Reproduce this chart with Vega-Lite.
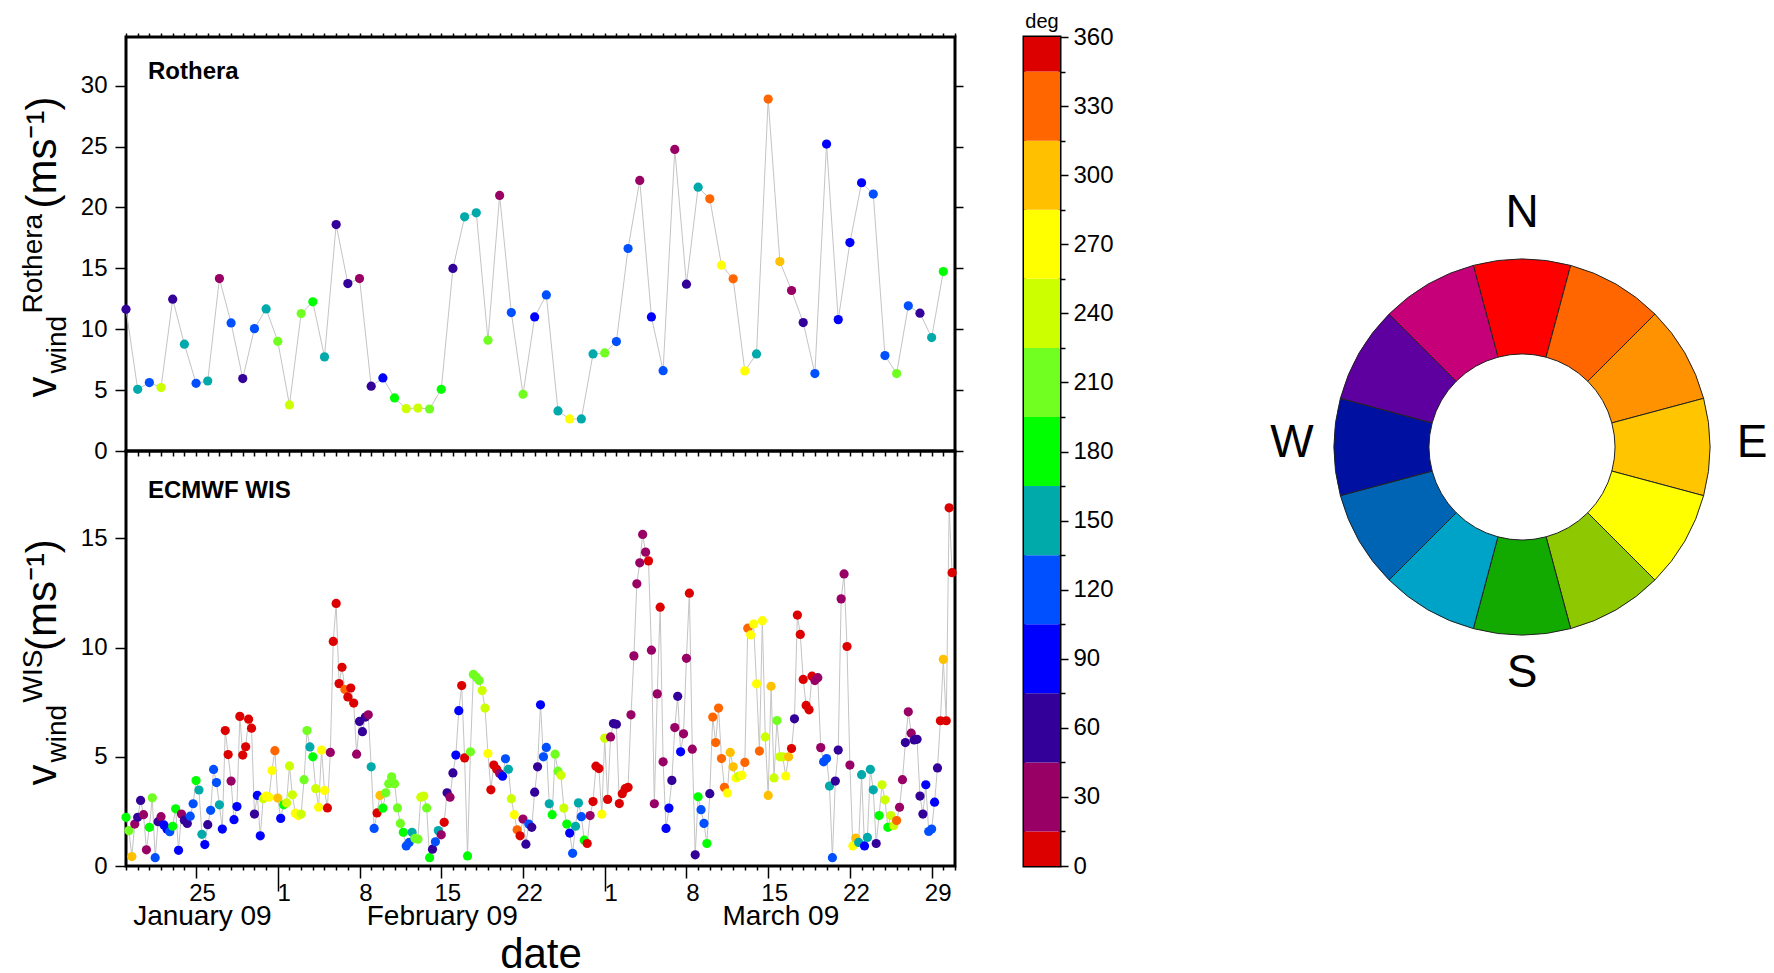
{
  "$schema": "https://vega.github.io/schema/vega-lite/v6.json",
  "background": "white",
  "padding": {"left": 17, "top": 10, "right": 0, "bottom": 0},
  "datasets": {
    "roth": [
      {"t":"2009-01-19","v":11.64,"d":60},{"t":"2009-01-20","v":5.07,"d":150},{"t":"2009-01-21","v":5.62,"d":120},{"t":"2009-01-22","v":5.21,"d":240},
      {"t":"2009-01-23","v":12.47,"d":60},{"t":"2009-01-24","v":8.77,"d":150},{"t":"2009-01-25","v":5.56,"d":120},{"t":"2009-01-26","v":5.75,"d":150},
      {"t":"2009-01-27","v":14.16,"d":30},{"t":"2009-01-28","v":10.52,"d":120},{"t":"2009-01-29","v":5.95,"d":60},{"t":"2009-01-30","v":10.05,"d":120},
      {"t":"2009-01-31","v":11.67,"d":150},{"t":"2009-02-01","v":9.01,"d":210},{"t":"2009-02-02","v":3.78,"d":240},{"t":"2009-02-03","v":11.29,"d":210},
      {"t":"2009-02-04","v":12.25,"d":180},{"t":"2009-02-05","v":7.73,"d":150},{"t":"2009-02-06","v":18.6,"d":60},{"t":"2009-02-07","v":13.75,"d":60},
      {"t":"2009-02-08","v":14.16,"d":30},{"t":"2009-02-09","v":5.32,"d":60},{"t":"2009-02-10","v":6.0,"d":90},{"t":"2009-02-11","v":4.36,"d":180},
      {"t":"2009-02-12","v":3.48,"d":240},{"t":"2009-02-13","v":3.53,"d":240},{"t":"2009-02-14","v":3.45,"d":210},{"t":"2009-02-15","v":5.07,"d":180},
      {"t":"2009-02-16","v":14.99,"d":60},{"t":"2009-02-17","v":19.23,"d":150},{"t":"2009-02-18","v":19.56,"d":150},{"t":"2009-02-19","v":9.1,"d":210},
      {"t":"2009-02-20","v":20.99,"d":30},{"t":"2009-02-21","v":11.37,"d":120},{"t":"2009-02-22","v":4.66,"d":210},{"t":"2009-02-23","v":11.01,"d":90},
      {"t":"2009-02-24","v":12.82,"d":120},{"t":"2009-02-25","v":3.29,"d":150},{"t":"2009-02-26","v":2.63,"d":270},{"t":"2009-02-27","v":2.63,"d":150},
      {"t":"2009-02-28","v":7.97,"d":150},{"t":"2009-03-01","v":8.05,"d":210},{"t":"2009-03-02","v":8.99,"d":120},{"t":"2009-03-03","v":16.63,"d":120},
      {"t":"2009-03-04","v":22.22,"d":30},{"t":"2009-03-05","v":11.01,"d":90},{"t":"2009-03-06","v":6.6,"d":120},{"t":"2009-03-07","v":24.77,"d":30},
      {"t":"2009-03-08","v":13.7,"d":60},{"t":"2009-03-09","v":21.67,"d":150},{"t":"2009-03-10","v":20.71,"d":330},{"t":"2009-03-11","v":15.26,"d":270},
      {"t":"2009-03-12","v":14.14,"d":330},{"t":"2009-03-13","v":6.58,"d":270},{"t":"2009-03-14","v":7.97,"d":150},{"t":"2009-03-15","v":28.9,"d":330},
      {"t":"2009-03-16","v":15.56,"d":300},{"t":"2009-03-17","v":13.18,"d":30},{"t":"2009-03-18","v":10.55,"d":60},{"t":"2009-03-19","v":6.36,"d":120},
      {"t":"2009-03-20","v":25.21,"d":90},{"t":"2009-03-21","v":10.79,"d":90},{"t":"2009-03-22","v":17.12,"d":90},{"t":"2009-03-23","v":22.03,"d":90},
      {"t":"2009-03-24","v":21.1,"d":120},{"t":"2009-03-25","v":7.84,"d":120},{"t":"2009-03-26","v":6.36,"d":210},{"t":"2009-03-27","v":11.92,"d":120},
      {"t":"2009-03-28","v":11.32,"d":60},{"t":"2009-03-29","v":9.32,"d":150},{"t":"2009-03-30","v":14.74,"d":180}
    ],
    "wis": [
      {"t":"2009-01-19T00:00Z","v":2.23,"d":180},{"t":"2009-01-19T06:00Z","v":1.62,"d":210},{"t":"2009-01-19T12:00Z","v":0.43,"d":300},{"t":"2009-01-19T18:00Z","v":1.92,"d":30},
      {"t":"2009-01-20T00:00Z","v":2.23,"d":60},{"t":"2009-01-20T06:00Z","v":3.0,"d":60},{"t":"2009-01-20T12:00Z","v":2.35,"d":30},{"t":"2009-01-20T18:00Z","v":0.74,"d":30},
      {"t":"2009-01-21T00:00Z","v":1.77,"d":180},{"t":"2009-01-21T06:00Z","v":3.12,"d":210},{"t":"2009-01-21T12:00Z","v":0.38,"d":120},{"t":"2009-01-21T18:00Z","v":2.03,"d":60},
      {"t":"2009-01-22T00:00Z","v":2.26,"d":30},{"t":"2009-01-22T06:00Z","v":1.88,"d":90},{"t":"2009-01-22T12:00Z","v":1.7,"d":90},{"t":"2009-01-22T18:00Z","v":1.57,"d":120},
      {"t":"2009-01-23T00:00Z","v":1.82,"d":180},{"t":"2009-01-23T06:00Z","v":2.62,"d":180},{"t":"2009-01-23T12:00Z","v":0.72,"d":90},{"t":"2009-01-23T18:00Z","v":2.38,"d":30},
      {"t":"2009-01-24T00:00Z","v":2.1,"d":60},{"t":"2009-01-24T06:00Z","v":1.95,"d":60},{"t":"2009-01-24T12:00Z","v":2.28,"d":120},{"t":"2009-01-24T18:00Z","v":2.85,"d":120},
      {"t":"2009-01-25T00:00Z","v":3.91,"d":180},{"t":"2009-01-25T06:00Z","v":3.48,"d":150},{"t":"2009-01-25T12:00Z","v":1.45,"d":150},{"t":"2009-01-25T18:00Z","v":0.98,"d":90},
      {"t":"2009-01-26T00:00Z","v":1.89,"d":60},{"t":"2009-01-26T06:00Z","v":2.55,"d":120},{"t":"2009-01-26T12:00Z","v":4.42,"d":120},{"t":"2009-01-26T18:00Z","v":3.82,"d":120},
      {"t":"2009-01-27T00:00Z","v":2.8,"d":150},{"t":"2009-01-27T06:00Z","v":1.69,"d":90},{"t":"2009-01-27T12:00Z","v":6.2,"d":0},{"t":"2009-01-27T18:00Z","v":5.1,"d":0},
      {"t":"2009-01-28T00:00Z","v":3.89,"d":30},{"t":"2009-01-28T06:00Z","v":2.12,"d":90},{"t":"2009-01-28T12:00Z","v":2.72,"d":90},{"t":"2009-01-28T18:00Z","v":6.85,"d":0},
      {"t":"2009-01-29T00:00Z","v":5.08,"d":0},{"t":"2009-01-29T06:00Z","v":5.46,"d":0},{"t":"2009-01-29T12:00Z","v":6.72,"d":0},{"t":"2009-01-29T18:00Z","v":6.31,"d":0},
      {"t":"2009-01-30T00:00Z","v":2.38,"d":60},{"t":"2009-01-30T06:00Z","v":3.23,"d":90},{"t":"2009-01-30T12:00Z","v":1.38,"d":90},{"t":"2009-01-30T18:00Z","v":3.08,"d":240},
      {"t":"2009-01-31T00:00Z","v":3.2,"d":270},{"t":"2009-01-31T06:00Z","v":3.15,"d":270},{"t":"2009-01-31T12:00Z","v":4.37,"d":270},{"t":"2009-01-31T18:00Z","v":5.28,"d":330},
      {"t":"2009-02-01T00:00Z","v":3.11,"d":300},{"t":"2009-02-01T06:00Z","v":2.18,"d":90},{"t":"2009-02-01T12:00Z","v":2.8,"d":180},{"t":"2009-02-01T18:00Z","v":2.89,"d":240},
      {"t":"2009-02-02T00:00Z","v":4.58,"d":240},{"t":"2009-02-02T06:00Z","v":3.26,"d":240},{"t":"2009-02-02T12:00Z","v":2.42,"d":270},{"t":"2009-02-02T18:00Z","v":2.31,"d":270},
      {"t":"2009-02-03T00:00Z","v":2.38,"d":240},{"t":"2009-02-03T06:00Z","v":3.95,"d":210},{"t":"2009-02-03T12:00Z","v":6.2,"d":210},{"t":"2009-02-03T18:00Z","v":5.45,"d":150},
      {"t":"2009-02-04T00:00Z","v":5.0,"d":180},{"t":"2009-02-04T06:00Z","v":3.54,"d":240},{"t":"2009-02-04T12:00Z","v":2.69,"d":270},{"t":"2009-02-04T18:00Z","v":5.31,"d":270},
      {"t":"2009-02-05T00:00Z","v":3.46,"d":270},{"t":"2009-02-05T06:00Z","v":2.66,"d":0},{"t":"2009-02-05T12:00Z","v":5.2,"d":30},{"t":"2009-02-05T18:00Z","v":10.28,"d":0},
      {"t":"2009-02-06T00:00Z","v":12.02,"d":0},{"t":"2009-02-06T06:00Z","v":8.35,"d":0},{"t":"2009-02-06T12:00Z","v":9.1,"d":0},{"t":"2009-02-06T18:00Z","v":8.08,"d":330},
      {"t":"2009-02-07T00:00Z","v":7.74,"d":0},{"t":"2009-02-07T06:00Z","v":8.15,"d":0},{"t":"2009-02-07T12:00Z","v":7.46,"d":0},{"t":"2009-02-07T18:00Z","v":5.12,"d":30},
      {"t":"2009-02-08T00:00Z","v":6.62,"d":60},{"t":"2009-02-08T06:00Z","v":6.15,"d":60},{"t":"2009-02-08T12:00Z","v":6.82,"d":60},{"t":"2009-02-08T18:00Z","v":6.92,"d":30},
      {"t":"2009-02-09T00:00Z","v":4.54,"d":150},{"t":"2009-02-09T06:00Z","v":1.72,"d":120},{"t":"2009-02-09T12:00Z","v":2.43,"d":0},{"t":"2009-02-09T18:00Z","v":3.23,"d":300},
      {"t":"2009-02-10T00:00Z","v":2.65,"d":180},{"t":"2009-02-10T06:00Z","v":3.35,"d":210},{"t":"2009-02-10T12:00Z","v":3.77,"d":210},{"t":"2009-02-10T18:00Z","v":4.08,"d":210},
      {"t":"2009-02-11T00:00Z","v":3.77,"d":210},{"t":"2009-02-11T06:00Z","v":2.66,"d":210},{"t":"2009-02-11T12:00Z","v":1.95,"d":210},{"t":"2009-02-11T18:00Z","v":1.54,"d":180},
      {"t":"2009-02-12T00:00Z","v":0.92,"d":120},{"t":"2009-02-12T06:00Z","v":1.08,"d":120},{"t":"2009-02-12T12:00Z","v":1.54,"d":150},{"t":"2009-02-12T18:00Z","v":1.26,"d":210},
      {"t":"2009-02-13T00:00Z","v":1.23,"d":210},{"t":"2009-02-13T06:00Z","v":3.15,"d":240},{"t":"2009-02-13T12:00Z","v":3.2,"d":240},{"t":"2009-02-13T18:00Z","v":2.66,"d":210},
      {"t":"2009-02-14T00:00Z","v":0.38,"d":180},{"t":"2009-02-14T06:00Z","v":0.77,"d":60},{"t":"2009-02-14T12:00Z","v":1.11,"d":120},{"t":"2009-02-14T18:00Z","v":1.62,"d":150},
      {"t":"2009-02-15T00:00Z","v":1.43,"d":30},{"t":"2009-02-15T06:00Z","v":2.0,"d":0},{"t":"2009-02-15T12:00Z","v":3.35,"d":60},{"t":"2009-02-15T18:00Z","v":3.15,"d":30},
      {"t":"2009-02-16T00:00Z","v":4.26,"d":60},{"t":"2009-02-16T06:00Z","v":5.08,"d":90},{"t":"2009-02-16T12:00Z","v":7.11,"d":90},{"t":"2009-02-16T18:00Z","v":8.26,"d":0},
      {"t":"2009-02-17T00:00Z","v":4.95,"d":0},{"t":"2009-02-17T06:00Z","v":0.46,"d":180},{"t":"2009-02-17T12:00Z","v":5.23,"d":210},{"t":"2009-02-17T18:00Z","v":8.77,"d":210},
      {"t":"2009-02-18T00:00Z","v":8.65,"d":210},{"t":"2009-02-18T06:00Z","v":8.49,"d":210},{"t":"2009-02-18T12:00Z","v":8.03,"d":240},{"t":"2009-02-18T18:00Z","v":7.23,"d":240},
      {"t":"2009-02-19T00:00Z","v":5.15,"d":270},{"t":"2009-02-19T06:00Z","v":3.49,"d":0},{"t":"2009-02-19T12:00Z","v":4.62,"d":0},{"t":"2009-02-19T18:00Z","v":4.43,"d":0},
      {"t":"2009-02-20T00:00Z","v":4.23,"d":30},{"t":"2009-02-20T06:00Z","v":4.11,"d":90},{"t":"2009-02-20T12:00Z","v":4.91,"d":120},{"t":"2009-02-20T18:00Z","v":4.43,"d":150},
      {"t":"2009-02-21T00:00Z","v":3.08,"d":240},{"t":"2009-02-21T06:00Z","v":2.35,"d":270},{"t":"2009-02-21T12:00Z","v":1.66,"d":330},{"t":"2009-02-21T18:00Z","v":1.38,"d":0},
      {"t":"2009-02-22T00:00Z","v":2.15,"d":30},{"t":"2009-02-22T06:00Z","v":1.0,"d":60},{"t":"2009-02-22T12:00Z","v":1.92,"d":120},{"t":"2009-02-22T18:00Z","v":1.77,"d":60},
      {"t":"2009-02-23T00:00Z","v":3.38,"d":60},{"t":"2009-02-23T06:00Z","v":4.54,"d":60},{"t":"2009-02-23T12:00Z","v":7.38,"d":90},{"t":"2009-02-23T18:00Z","v":5.0,"d":120},
      {"t":"2009-02-24T00:00Z","v":5.43,"d":120},{"t":"2009-02-24T06:00Z","v":2.85,"d":150},{"t":"2009-02-24T12:00Z","v":2.35,"d":180},{"t":"2009-02-24T18:00Z","v":5.12,"d":210},
      {"t":"2009-02-25T00:00Z","v":4.34,"d":210},{"t":"2009-02-25T06:00Z","v":4.15,"d":240},{"t":"2009-02-25T12:00Z","v":2.65,"d":240},{"t":"2009-02-25T18:00Z","v":1.92,"d":180},
      {"t":"2009-02-26T00:00Z","v":1.51,"d":90},{"t":"2009-02-26T06:00Z","v":0.58,"d":120},{"t":"2009-02-26T12:00Z","v":1.82,"d":150},{"t":"2009-02-26T18:00Z","v":2.89,"d":150},
      {"t":"2009-02-27T00:00Z","v":2.26,"d":120},{"t":"2009-02-27T06:00Z","v":1.18,"d":180},{"t":"2009-02-27T12:00Z","v":1.03,"d":0},{"t":"2009-02-27T18:00Z","v":2.31,"d":30},
      {"t":"2009-02-28T00:00Z","v":2.95,"d":0},{"t":"2009-02-28T06:00Z","v":4.57,"d":0},{"t":"2009-02-28T12:00Z","v":4.46,"d":0},{"t":"2009-02-28T18:00Z","v":2.37,"d":270},
      {"t":"2009-03-01T00:00Z","v":5.85,"d":240},{"t":"2009-03-01T06:00Z","v":3.05,"d":0},{"t":"2009-03-01T12:00Z","v":5.91,"d":30},{"t":"2009-03-01T18:00Z","v":6.52,"d":60},
      {"t":"2009-03-02T00:00Z","v":6.49,"d":60},{"t":"2009-03-02T06:00Z","v":2.86,"d":0},{"t":"2009-03-02T12:00Z","v":3.31,"d":0},{"t":"2009-03-02T18:00Z","v":3.54,"d":0},
      {"t":"2009-03-03T00:00Z","v":3.6,"d":0},{"t":"2009-03-03T06:00Z","v":6.92,"d":30},{"t":"2009-03-03T12:00Z","v":9.62,"d":30},{"t":"2009-03-03T18:00Z","v":12.92,"d":30},
      {"t":"2009-03-04T00:00Z","v":13.88,"d":30},{"t":"2009-03-04T06:00Z","v":15.18,"d":30},{"t":"2009-03-04T12:00Z","v":14.37,"d":30},{"t":"2009-03-04T18:00Z","v":13.97,"d":0},
      {"t":"2009-03-05T00:00Z","v":9.88,"d":30},{"t":"2009-03-05T06:00Z","v":2.85,"d":30},{"t":"2009-03-05T12:00Z","v":7.88,"d":30},{"t":"2009-03-05T18:00Z","v":11.85,"d":0},
      {"t":"2009-03-06T00:00Z","v":4.77,"d":30},{"t":"2009-03-06T06:00Z","v":1.72,"d":90},{"t":"2009-03-06T12:00Z","v":2.65,"d":90},{"t":"2009-03-06T18:00Z","v":3.92,"d":60},
      {"t":"2009-03-07T00:00Z","v":6.34,"d":30},{"t":"2009-03-07T06:00Z","v":7.77,"d":60},{"t":"2009-03-07T12:00Z","v":5.23,"d":90},{"t":"2009-03-07T18:00Z","v":6.05,"d":30},
      {"t":"2009-03-08T00:00Z","v":9.51,"d":30},{"t":"2009-03-08T06:00Z","v":12.49,"d":0},{"t":"2009-03-08T12:00Z","v":5.35,"d":30},{"t":"2009-03-08T18:00Z","v":0.51,"d":60},
      {"t":"2009-03-09T00:00Z","v":3.17,"d":180},{"t":"2009-03-09T06:00Z","v":2.58,"d":120},{"t":"2009-03-09T12:00Z","v":1.95,"d":120},{"t":"2009-03-09T18:00Z","v":1.03,"d":180},
      {"t":"2009-03-10T00:00Z","v":3.31,"d":60},{"t":"2009-03-10T06:00Z","v":6.82,"d":330},{"t":"2009-03-10T12:00Z","v":5.65,"d":330},{"t":"2009-03-10T18:00Z","v":7.23,"d":330},
      {"t":"2009-03-11T00:00Z","v":4.92,"d":330},{"t":"2009-03-11T06:00Z","v":3.6,"d":330},{"t":"2009-03-11T12:00Z","v":3.34,"d":270},{"t":"2009-03-11T18:00Z","v":5.2,"d":300},
      {"t":"2009-03-12T00:00Z","v":4.54,"d":300},{"t":"2009-03-12T06:00Z","v":4.03,"d":270},{"t":"2009-03-12T12:00Z","v":4.12,"d":240},{"t":"2009-03-12T18:00Z","v":4.15,"d":270},
      {"t":"2009-03-13T00:00Z","v":4.74,"d":330},{"t":"2009-03-13T06:00Z","v":10.89,"d":330},{"t":"2009-03-13T12:00Z","v":10.58,"d":270},{"t":"2009-03-13T18:00Z","v":11.08,"d":270},
      {"t":"2009-03-14T00:00Z","v":8.34,"d":270},{"t":"2009-03-14T06:00Z","v":5.26,"d":330},{"t":"2009-03-14T12:00Z","v":11.23,"d":270},{"t":"2009-03-14T18:00Z","v":5.91,"d":240},
      {"t":"2009-03-15T00:00Z","v":3.23,"d":300},{"t":"2009-03-15T06:00Z","v":8.23,"d":300},{"t":"2009-03-15T12:00Z","v":4.03,"d":240},{"t":"2009-03-15T18:00Z","v":6.66,"d":210},
      {"t":"2009-03-16T00:00Z","v":5.0,"d":240},{"t":"2009-03-16T06:00Z","v":5.0,"d":240},{"t":"2009-03-16T12:00Z","v":4.12,"d":270},{"t":"2009-03-16T18:00Z","v":5.0,"d":300},
      {"t":"2009-03-17T00:00Z","v":5.38,"d":0},{"t":"2009-03-17T06:00Z","v":6.74,"d":60},{"t":"2009-03-17T12:00Z","v":11.49,"d":0},{"t":"2009-03-17T18:00Z","v":10.6,"d":0},
      {"t":"2009-03-18T00:00Z","v":8.54,"d":0},{"t":"2009-03-18T06:00Z","v":7.35,"d":0},{"t":"2009-03-18T12:00Z","v":7.15,"d":0},{"t":"2009-03-18T18:00Z","v":8.69,"d":0},
      {"t":"2009-03-19T00:00Z","v":8.49,"d":30},{"t":"2009-03-19T06:00Z","v":8.62,"d":30},{"t":"2009-03-19T12:00Z","v":5.42,"d":30},{"t":"2009-03-19T18:00Z","v":4.77,"d":120},
      {"t":"2009-03-20T00:00Z","v":4.92,"d":120},{"t":"2009-03-20T06:00Z","v":3.66,"d":150},{"t":"2009-03-20T12:00Z","v":0.38,"d":120},{"t":"2009-03-20T18:00Z","v":3.89,"d":60},
      {"t":"2009-03-21T00:00Z","v":5.31,"d":60},{"t":"2009-03-21T06:00Z","v":12.23,"d":30},{"t":"2009-03-21T12:00Z","v":13.37,"d":30},{"t":"2009-03-21T18:00Z","v":10.05,"d":0},
      {"t":"2009-03-22T00:00Z","v":4.62,"d":30},{"t":"2009-03-22T06:00Z","v":0.92,"d":270},{"t":"2009-03-22T12:00Z","v":1.28,"d":300},{"t":"2009-03-22T18:00Z","v":1.08,"d":150},
      {"t":"2009-03-23T00:00Z","v":4.18,"d":150},{"t":"2009-03-23T06:00Z","v":0.92,"d":90},{"t":"2009-03-23T12:00Z","v":1.31,"d":150},{"t":"2009-03-23T18:00Z","v":4.42,"d":150},
      {"t":"2009-03-24T00:00Z","v":3.49,"d":150},{"t":"2009-03-24T06:00Z","v":1.03,"d":60},{"t":"2009-03-24T12:00Z","v":2.31,"d":180},{"t":"2009-03-24T18:00Z","v":3.72,"d":240},
      {"t":"2009-03-25T00:00Z","v":3.03,"d":240},{"t":"2009-03-25T06:00Z","v":1.77,"d":180},{"t":"2009-03-25T12:00Z","v":2.31,"d":240},{"t":"2009-03-25T18:00Z","v":1.85,"d":240},
      {"t":"2009-03-26T00:00Z","v":2.08,"d":330},{"t":"2009-03-26T06:00Z","v":2.69,"d":30},{"t":"2009-03-26T12:00Z","v":3.95,"d":30},{"t":"2009-03-26T18:00Z","v":5.65,"d":60},
      {"t":"2009-03-27T00:00Z","v":7.06,"d":30},{"t":"2009-03-27T06:00Z","v":6.08,"d":30},{"t":"2009-03-27T12:00Z","v":5.77,"d":60},{"t":"2009-03-27T18:00Z","v":5.8,"d":60},
      {"t":"2009-03-28T00:00Z","v":3.2,"d":60},{"t":"2009-03-28T06:00Z","v":2.38,"d":60},{"t":"2009-03-28T12:00Z","v":3.72,"d":90},{"t":"2009-03-28T18:00Z","v":1.58,"d":120},
      {"t":"2009-03-29T00:00Z","v":1.69,"d":120},{"t":"2009-03-29T06:00Z","v":2.92,"d":90},{"t":"2009-03-29T12:00Z","v":4.49,"d":60},{"t":"2009-03-29T18:00Z","v":6.65,"d":0},
      {"t":"2009-03-30T00:00Z","v":9.46,"d":300},{"t":"2009-03-30T06:00Z","v":6.65,"d":0},{"t":"2009-03-30T12:00Z","v":16.4,"d":0},{"t":"2009-03-30T18:00Z","v":13.43,"d":0}
    ],
    "bins": [
      {"lo":0,"hi":15,"mid":0},{"lo":15,"hi":45,"mid":30},{"lo":45,"hi":75,"mid":60},{"lo":75,"hi":105,"mid":90},
      {"lo":105,"hi":135,"mid":120},{"lo":135,"hi":165,"mid":150},{"lo":165,"hi":195,"mid":180},{"lo":195,"hi":225,"mid":210},
      {"lo":225,"hi":255,"mid":240},{"lo":255,"hi":285,"mid":270},{"lo":285,"hi":315,"mid":300},{"lo":315,"hi":345,"mid":330},{"lo":345,"hi":360,"mid":360}
    ],
    "wheel": [
      {"dir":0,"a0":-15,"a1":15},{"dir":30,"a0":15,"a1":45},{"dir":60,"a0":45,"a1":75},{"dir":90,"a0":75,"a1":105},
      {"dir":120,"a0":105,"a1":135},{"dir":150,"a0":135,"a1":165},{"dir":180,"a0":165,"a1":195},{"dir":210,"a0":195,"a1":225},
      {"dir":240,"a0":225,"a1":255},{"dir":270,"a0":255,"a1":285},{"dir":300,"a0":285,"a1":315},{"dir":330,"a0":315,"a1":345}
    ],
    "compass": [
      {"lab":"N","ang":0},{"lab":"E","ang":90},{"lab":"S","ang":180},{"lab":"W","ang":270}
    ]
  },
  "spacing": 56,
  "resolve": {"scale": {"color": "independent"}},
  "hconcat": [
    {
      "bounds": "flush",
      "spacing": 0,
      "title": {"text": " ", "fontSize": 20, "offset": -23, "frame": "group", "anchor": "start", "baseline": "alphabetic"},
      "vconcat": [
        {
          "width": 829,
          "height": 414,
          "title": {"text": "Rothera", "anchor": "start", "frame": "group", "offset": -71, "dx": 22, "fontSize": 24, "fontWeight": "bold", "baseline": "alphabetic"},
          "data": {"name": "roth"},
          "layer": [
            {
              "mark": {"type": "line", "color": "#c4c4c4", "strokeWidth": 1},
              "encoding": {
                "x": {"field": "t", "type": "temporal", "scale": {"type": "utc", "domain": [1232323200000, 1238457600000]}, "axis": null},
                "y": {"field": "v", "type": "quantitative", "scale": {"domain": [0, 34], "nice": false},
                  "axis": {"orient": "left", "values": [0,5,10,15,20,25,30], "tickSize": 11, "labelPadding": 8,
                    "title": "v\u2003\u2003\u2003\u2003(ms\u207b\u00b9)", "titleFontSize": 42, "titleAngle": 270, "titleAlign": "left", "titleBaseline": "alphabetic", "titleX": -71, "titleY": 360}}
              }
            },
            {
              "mark": {"type": "circle", "size": 85, "opacity": 1},
              "encoding": {
                "x": {"field": "t", "type": "temporal", "scale": {"type": "utc", "domain": [1232323200000, 1238457600000]},
                  "axis": {"orient": "top", "labels": false, "tickSize": 4,
                    "values": [1232323200000,1232409600000,1232496000000,1232582400000,1232668800000,1232755200000,1232841600000,1232928000000,1233014400000,1233100800000,1233187200000,1233273600000,1233360000000,1233446400000,1233532800000,1233619200000,1233705600000,1233792000000,1233878400000,1233964800000,1234051200000,1234137600000,1234224000000,1234310400000,1234396800000,1234483200000,1234569600000,1234656000000,1234742400000,1234828800000,1234915200000,1235001600000,1235088000000,1235174400000,1235260800000,1235347200000,1235433600000,1235520000000,1235606400000,1235692800000,1235779200000,1235865600000,1235952000000,1236038400000,1236124800000,1236211200000,1236297600000,1236384000000,1236470400000,1236556800000,1236643200000,1236729600000,1236816000000,1236902400000,1236988800000,1237075200000,1237161600000,1237248000000,1237334400000,1237420800000,1237507200000,1237593600000,1237680000000,1237766400000,1237852800000,1237939200000,1238025600000,1238112000000,1238198400000,1238284800000,1238371200000,1238457600000],
                    "title": "Rothera", "titleFontSize": 28, "titleAngle": 270, "titleAlign": "left", "titleBaseline": "alphabetic", "titleX": -85, "titleY": 276}},
                "y": {"field": "v", "type": "quantitative", "scale": {"domain": [0, 34], "nice": false},
                  "axis": {"orient": "right", "values": [0,5,10,15,20,25,30], "tickSize": 8, "labels": false,
                    "title": "wind", "titleFontSize": 28, "titleAngle": 270, "titleAlign": "left", "titleBaseline": "alphabetic", "titleX": -890, "titleY": 336}},
                "color": {"field": "d", "type": "quantitative", "legend": null,
                  "scale": {"type": "threshold", "domain": [15,45,75,105,135,165,195,225,255,285,315,345],
                    "range": ["#dd0000","#990066","#330099","#0000ff","#0050ff","#00aaaa","#00ff00","#70ff20","#ccff00","#ffff00","#ffc000","#ff6600","#dd0000"]}}
              }
            }
          ],
          "resolve": {"axis": {"x": "independent", "y": "independent"}}
        },
        {
          "width": 829,
          "height": 415,
          "title": {"text": "ECMWF WIS", "anchor": "start", "frame": "group", "offset": -72, "dx": 22, "fontSize": 24, "fontWeight": "bold", "baseline": "alphabetic"},
          "data": {"name": "wis"},
          "layer": [
            {
              "mark": {"type": "line", "color": "#c4c4c4", "strokeWidth": 1},
              "encoding": {
                "x": {"field": "t", "type": "temporal", "scale": {"type": "utc", "domain": [1232323200000, 1238457600000]},
                  "axis": {"orient": "bottom",
                    "values": [1232323200000,1232409600000,1232496000000,1232582400000,1232668800000,1232755200000,1232841600000,1232928000000,1233014400000,1233100800000,1233187200000,1233273600000,1233360000000,1233446400000,1233532800000,1233619200000,1233705600000,1233792000000,1233878400000,1233964800000,1234051200000,1234137600000,1234224000000,1234310400000,1234396800000,1234483200000,1234569600000,1234656000000,1234742400000,1234828800000,1234915200000,1235001600000,1235088000000,1235174400000,1235260800000,1235347200000,1235433600000,1235520000000,1235606400000,1235692800000,1235779200000,1235865600000,1235952000000,1236038400000,1236124800000,1236211200000,1236297600000,1236384000000,1236470400000,1236556800000,1236643200000,1236729600000,1236816000000,1236902400000,1236988800000,1237075200000,1237161600000,1237248000000,1237334400000,1237420800000,1237507200000,1237593600000,1237680000000,1237766400000,1237852800000,1237939200000,1238025600000,1238112000000,1238198400000,1238284800000,1238371200000,1238457600000,1232884800000,1234659600000,1237165200000],
                    "labelExpr": "utchours(datum.value) != 0 ? (utcmonth(datum.value) == 0 ? 'January 09' : (utcmonth(datum.value) == 1 ? 'February 09' : 'March 09')) : (utcday(datum.value) == 0 ? '' + utcdate(datum.value) : '')",
                    "tickSize": {"condition": [{"test": "utchours(datum.value) != 0", "value": 0}, {"test": "utcdate(datum.value) == 1", "value": 25}, {"test": "utcday(datum.value) == 0", "value": 12}], "value": 4},
                    "labelPadding": {"condition": [{"test": "utchours(datum.value) != 0", "value": 36}, {"test": "utcdate(datum.value) == 1", "value": -10}], "value": 3},
                    "labelOffset": {"condition": {"test": "utchours(datum.value) != 0", "value": 0}, "value": 6},
                    "labelFontSize": {"condition": {"test": "utchours(datum.value) != 0", "value": 28}, "value": 24},
                    "labelFlush": false, "labelOverlap": false,
                    "title": "date", "titleFontSize": 42, "titleAngle": 0, "titleAlign": "center", "titleBaseline": "alphabetic", "titleX": 414.5, "titleY": 101}},
                "y": {"field": "v", "type": "quantitative", "scale": {"domain": [0, 19], "nice": false},
                  "axis": {"orient": "left", "values": [0,5,10,15], "tickSize": 11, "labelPadding": 8,
                    "title": "v\u2003\u2003\u2002\u2009(ms\u207b\u00b9)", "titleFontSize": 42, "titleAngle": 270, "titleAlign": "left", "titleBaseline": "alphabetic", "titleX": -71, "titleY": 334}}
              }
            },
            {
              "mark": {"type": "circle", "size": 85, "opacity": 1},
              "encoding": {
                "x": {"field": "t", "type": "temporal", "scale": {"type": "utc", "domain": [1232323200000, 1238457600000]},
                  "axis": {"orient": "top", "labels": false, "tickSize": -5,
                    "values": [1232323200000,1232409600000,1232496000000,1232582400000,1232668800000,1232755200000,1232841600000,1232928000000,1233014400000,1233100800000,1233187200000,1233273600000,1233360000000,1233446400000,1233532800000,1233619200000,1233705600000,1233792000000,1233878400000,1233964800000,1234051200000,1234137600000,1234224000000,1234310400000,1234396800000,1234483200000,1234569600000,1234656000000,1234742400000,1234828800000,1234915200000,1235001600000,1235088000000,1235174400000,1235260800000,1235347200000,1235433600000,1235520000000,1235606400000,1235692800000,1235779200000,1235865600000,1235952000000,1236038400000,1236124800000,1236211200000,1236297600000,1236384000000,1236470400000,1236556800000,1236643200000,1236729600000,1236816000000,1236902400000,1236988800000,1237075200000,1237161600000,1237248000000,1237334400000,1237420800000,1237507200000,1237593600000,1237680000000,1237766400000,1237852800000,1237939200000,1238025600000,1238112000000,1238198400000,1238284800000,1238371200000,1238457600000],
                    "title": "WIS", "titleFontSize": 28, "titleAngle": 270, "titleAlign": "left", "titleBaseline": "alphabetic", "titleX": -85, "titleY": 251}},
                "y": {"field": "v", "type": "quantitative", "scale": {"domain": [0, 19], "nice": false},
                  "axis": {"orient": "right", "ticks": false, "labels": false,
                    "title": "wind", "titleFontSize": 28, "titleAngle": 270, "titleAlign": "left", "titleBaseline": "alphabetic", "titleX": -890, "titleY": 311}},
                "color": {"field": "d", "type": "quantitative", "legend": null,
                  "scale": {"type": "threshold", "domain": [15,45,75,105,135,165,195,225,255,285,315,345],
                    "range": ["#dd0000","#990066","#330099","#0000ff","#0050ff","#00aaaa","#00ff00","#70ff20","#ccff00","#ffff00","#ffc000","#ff6600","#dd0000"]}}
              }
            }
          ],
          "resolve": {"axis": {"x": "independent", "y": "independent"}}
        }
      ]
    },
    {
      "spacing": 155,
      "resolve": {"scale": {"color": "independent"}},
      "hconcat": [
        {
          "width": 36,
          "height": 829,
          "title": {"text": "deg", "fontSize": 20, "fontWeight": "normal", "offset": -23, "frame": "group", "anchor": "middle", "baseline": "alphabetic"},
          "data": {"name": "bins"},
          "mark": {"type": "rect"},
          "encoding": {
            "y": {"field": "lo", "type": "quantitative", "scale": {"domain": [0, 360], "nice": false},
              "axis": {"orient": "right", "title": null, "values": [0,15,30,45,60,75,90,105,120,135,150,165,180,195,210,225,240,255,270,285,300,315,330,345,360],
                "labelExpr": "datum.value % 30 == 0 ? datum.label : ''",
                "tickSize": {"condition": {"test": "datum.value % 30 == 0", "value": 8}, "value": 5},
                "labelPadding": 5, "labelFlush": false, "labelOverlap": false}},
            "y2": {"field": "hi"},
            "color": {"field": "mid", "type": "quantitative", "legend": null,
              "scale": {"type": "threshold", "domain": [15,45,75,105,135,165,195,225,255,285,315,345],
                "range": ["#dd0000","#990066","#330099","#0000ff","#0050ff","#00aaaa","#00ff00","#70ff20","#ccff00","#ffff00","#ffc000","#ff6600","#dd0000"]}}
          }
        },
        {
          "width": 470,
          "height": 820,
          "view": {"stroke": null},
          "layer": [
            {
              "data": {"name": "wheel"},
              "mark": {"type": "arc", "innerRadius": 93, "outerRadius": 188, "stroke": "#222222", "strokeWidth": 1},
              "encoding": {
                "theta": {"field": "a0", "type": "quantitative", "stack": null, "scale": {"domain": [0, 360], "range": [0, 6.283185307]}},
                "theta2": {"field": "a1"},
                "color": {"field": "dir", "type": "nominal", "legend": null,
                  "scale": {"domain": [0,30,60,90,120,150,180,210,240,270,300,330],
                    "range": ["#ff0000","#ff6600","#ff9200","#ffc600","#ffff00","#8dc800","#12aa00","#00a3c8","#0064b4","#0010a0","#5e00a0","#c60078"]}}
              }
            },
            {
              "data": {"name": "compass"},
              "mark": {"type": "text", "radius": 230, "dy": -4, "fontSize": 46, "font": "Liberation Sans", "align": "center", "baseline": "middle", "color": "black"},
              "encoding": {
                "theta": {"field": "ang", "type": "quantitative", "stack": null, "scale": {"domain": [0, 360], "range": [0, 6.283185307]}},
                "text": {"field": "lab"}
              }
            }
          ]
        }
      ]
    }
  ],
  "config": {
    "font": "Liberation Sans",
    "view": {"stroke": "#000000", "strokeWidth": 3},
    "axis": {"grid": false, "domain": false, "labelFont": "Liberation Sans", "labelColor": "#000000", "labelFontSize": 24,
      "titleFont": "Liberation Sans", "titleColor": "#000000", "titleFontWeight": "normal", "tickColor": "#000000", "tickWidth": 1.5,
      "labelFlush": false},
    "title": {"font": "Liberation Sans", "color": "#000000"}
  }
}
